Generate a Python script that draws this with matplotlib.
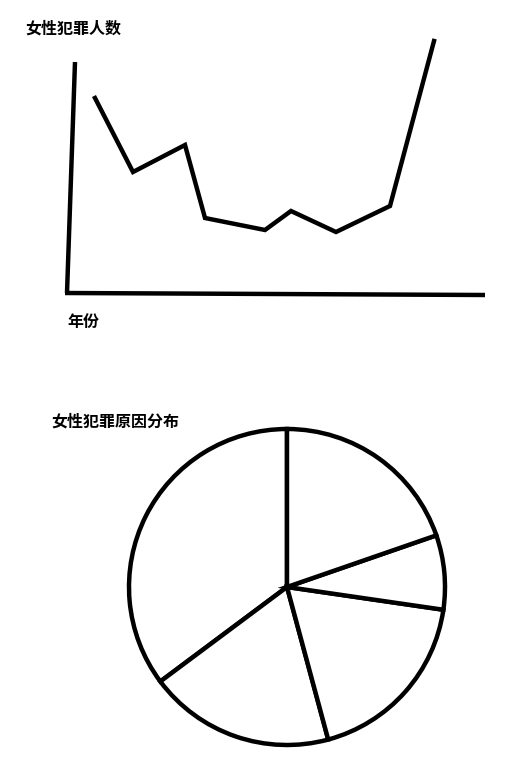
import numpy as np
import matplotlib.pyplot as plt

plt.rcParams['font.family'] = ['Noto Sans CJK SC', 'DejaVu Sans']

# 折线图数据（按草图读取）
years = [30, 68, 120, 140, 200, 226, 271, 325, 369]
counts = [197, 123, 150, 77, 65, 84, 63, 89, 254]

# 饼图数据（百分比）
reasons = ['A', 'B', 'C', 'D', 'E']
shares = [35.2, 19.0, 18.5, 7.6, 19.7]

W, H = 527, 770
fig = plt.figure(figsize=(W / 100, H / 100), dpi=100)

def fx(px):
    return px / W

def fy(py):
    return 1 - py / H

# 折线图
ax = fig.add_axes([fx(65), fy(295), fx(485) - fx(65), fy(41) - fy(295)])
ax.plot(years, counts, color='black', linewidth=3.2, solid_joinstyle='miter', clip_on=False)
ax.set_xlim(0, 420)
ax.set_ylim(0, 254)
ax.axis('off')
# 手绘风格的坐标轴
ax.plot([10, 2], [233, 2], color='black', linewidth=3.2, clip_on=False, solid_capstyle='butt')
ax.plot([0, 420], [2, 0], color='black', linewidth=3.2, clip_on=False, solid_capstyle='butt')

fig.text(fx(25), fy(29), '女性犯罪人数', fontsize=11.5, fontweight='bold', va='center', ha='left')
fig.text(fx(67), fy(322), '年份', fontsize=11.5, fontweight='bold', va='center', ha='left')
fig.text(fx(51), fy(422), '女性犯罪原因分布', fontsize=11.5, fontweight='bold', va='center', ha='left')

# 饼图
cx, cy, r = 287, 587, 158
ax2 = fig.add_axes([fx(cx - r), fy(cy + r), fx(2 * r), (2 * r) / H])
ax2.pie(shares, startangle=90, counterclock=True, colors=['white'] * len(shares),
        wedgeprops=dict(edgecolor='black', linewidth=3.2, clip_on=False))
ax2.set_xlim(-1, 1)
ax2.set_ylim(-1, 1)
ax2.axis('off')

fig.savefig('out.png', dpi=100, facecolor='white')
